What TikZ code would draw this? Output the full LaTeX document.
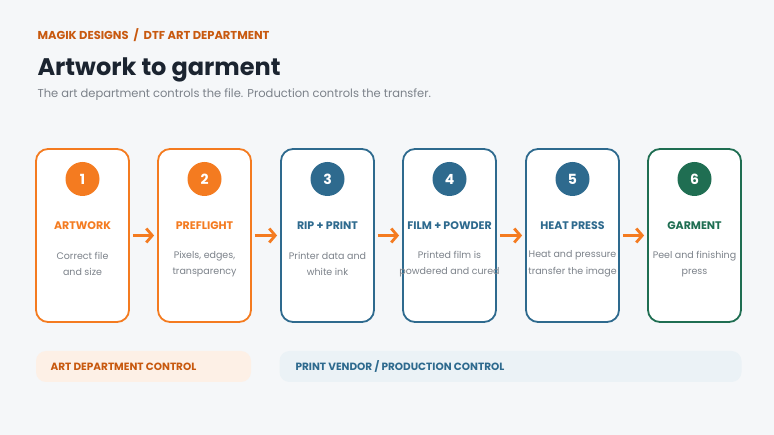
\documentclass[tikz,border=0pt]{standalone}
\usepackage{fontspec}
\setmainfont{Poppins}
\usetikzlibrary{arrows.meta, positioning}

\definecolor{pagebg}{HTML}{F5F7F9}
\definecolor{steporange}{HTML}{F47B20}
\definecolor{darkorange}{HTML}{C8590F}
\definecolor{stepblue}{HTML}{2E6A8E}
\definecolor{stepgreen}{HTML}{1F6E52}
\definecolor{inkdark}{HTML}{1B2430}
\definecolor{descgray}{HTML}{7C828A}
\definecolor{artbar}{HTML}{FDF0E6}
\definecolor{vendorbar}{HTML}{EBF2F6}

\tikzset{
  stepbox/.style={draw=#1, line width=1.8pt, fill=white, rounded corners=12pt,
    minimum width=93pt, minimum height=173pt, inner sep=0pt},
  stepnum/.style={circle, fill=#1, minimum size=34pt, inner sep=0pt,
    text=white, font=\fontsize{14}{14}\selectfont\bfseries},
  steptitle/.style={text=#1, font=\fontsize{11}{12}\selectfont\bfseries},
  stepdesc/.style={text=descgray, align=center, font=\fontsize{9.5}{16.5}\selectfont},
  flow/.style={draw=steporange, line width=2.8pt, -{Straight Barb[length=6pt, width=14pt, line width=2.8pt]}},
  ctrlbar/.style={rounded corners=10pt, minimum height=31pt, inner sep=0pt}
}

\begin{document}
\begin{tikzpicture}[x=1pt, y=-1pt]
  % page
  \fill[pagebg] (0,0) rectangle (774,435);
  \useasboundingbox (0,0) rectangle (774,435);

  % header
  \node[anchor=west, text=darkorange, font=\fontsize{11.5}{12}\selectfont\bfseries] (brand) at (34,35) {MAGIK DESIGNS \ / \ DTF ART DEPARTMENT};
  \node[anchor=west, text=inkdark, font=\fontsize{24}{28}\selectfont\bfseries] (title) at (34,70) {Artwork to garment};
  \node[anchor=west, text=descgray, font=\fontsize{11.5}{12}\selectfont] (subtitle) at (34,95) {The art department controls the file. Production controls the transfer.};

  % steps
  \node[stepbox=steporange] (box1) at (82.5,235.5) {};
  \node[stepbox=steporange] (box2) at (204.5,235.5) {};
  \node[stepbox=stepblue]   (box3) at (327.5,235.5) {};
  \node[stepbox=stepblue]   (box4) at (449.5,235.5) {};
  \node[stepbox=stepblue]   (box5) at (572.5,235.5) {};
  \node[stepbox=stepgreen]  (box6) at (694.5,235.5) {};

  \node[stepnum=steporange] (num1) at (82.5,179) {1};
  \node[stepnum=steporange] (num2) at (204.5,179) {2};
  \node[stepnum=stepblue]   (num3) at (327.5,179) {3};
  \node[stepnum=stepblue]   (num4) at (449.5,179) {4};
  \node[stepnum=stepblue]   (num5) at (572.5,179) {5};
  \node[stepnum=stepgreen]  (num6) at (694.5,179) {6};

  \node[steptitle=steporange] (title1) at (82.5,226) {ARTWORK};
  \node[steptitle=steporange] (title2) at (204.5,226) {PREFLIGHT};
  \node[steptitle=stepblue]   (title3) at (327.5,226) {RIP + PRINT};
  \node[steptitle=stepblue]   (title4) at (449.5,226) {FILM + POWDER};
  \node[steptitle=stepblue]   (title5) at (572.5,226) {HEAT PRESS};
  \node[steptitle=stepgreen]  (title6) at (694.5,226) {GARMENT};

  \node[stepdesc] (desc1) at (82.5,264) {Correct file\\and size};
  \node[stepdesc] (desc2) at (204.5,264) {Pixels, edges,\\transparency};
  \node[stepdesc] (desc3) at (327.5,264) {Printer data and\\white ink};
  \node[stepdesc] (desc4) at (449.5,264) {Printed film is\\powdered and cured};
  \node[stepdesc] (desc5) at (572.5,264) {Heat and pressure\\transfer the image};
  \node[stepdesc] (desc6) at (694.5,264) {Peel and finishing\\press};

  % arrows
  \draw[flow] ([xshift=3pt]box1.east) -- ([xshift=-3pt]box2.west);
  \draw[flow] ([xshift=3pt]box2.east) -- ([xshift=-3pt]box3.west);
  \draw[flow] ([xshift=3pt]box3.east) -- ([xshift=-3pt]box4.west);
  \draw[flow] ([xshift=3pt]box4.east) -- ([xshift=-3pt]box5.west);
  \draw[flow] ([xshift=3pt]box5.east) -- ([xshift=-3pt]box6.west);

  % control bars
  \node[ctrlbar, fill=artbar, minimum width=215pt] (artbar) at (143.5,366.5) {};
  \node[anchor=west, text=darkorange, font=\fontsize{10.5}{12}\selectfont\bfseries] (artlabel) at (47,366.5) {ART DEPARTMENT CONTROL};
  \node[ctrlbar, fill=vendorbar, minimum width=462pt] (vendorbar) at (510.5,366.5) {};
  \node[anchor=west, text=stepblue, font=\fontsize{10.5}{12}\selectfont\bfseries] (vendorlabel) at (292,366.5) {PRINT VENDOR / PRODUCTION CONTROL};
\end{tikzpicture}
\end{document}
